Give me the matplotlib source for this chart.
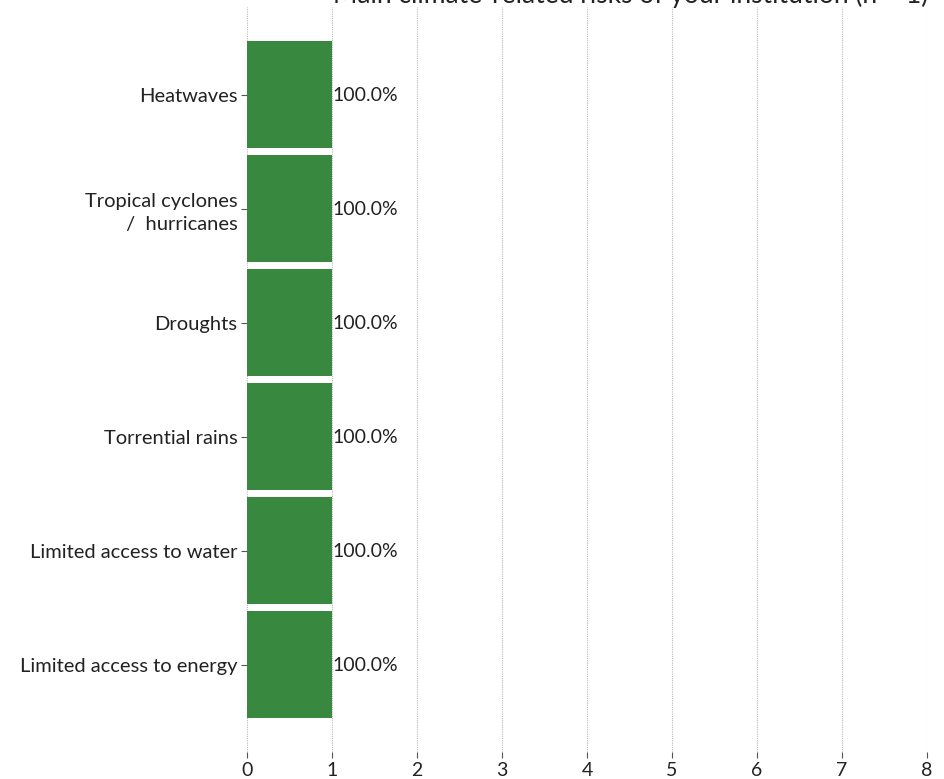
import matplotlib
matplotlib.use("Agg")
import matplotlib.pyplot as plt

risks = [
    "Heatwaves",
    "Tropical cyclones\n /  hurricanes",
    "Droughts",
    "Torrential rains",
    "Limited access to water",
    "Limited access to energy",
]
counts = [1, 1, 1, 1, 1, 1]
shares = [100.0, 100.0, 100.0, 100.0, 100.0, 100.0]
x_ticks = [0, 1, 2, 3, 4, 5, 6, 7, 8]
title = "Main climate-related risks of your institution (n = 1)"

plt.rcParams["font.family"] = ["Lato", "DejaVu Sans"]

fig = plt.figure(figsize=(9.45, 7.79), dpi=100)
ax = fig.add_axes([0.2614, 0.0347, 0.7196, 0.956])

ypos = list(range(len(risks)))[::-1]
ax.barh(ypos, counts, height=0.94, color="#38893f", zorder=3)
for y, c, s in zip(ypos, counts, shares):
    ax.text(c + 0.005, y - 0.01, f"{s:.1f}%", va="center", ha="left",
            fontsize=14, color="#222222", zorder=4)

ax.set_yticks(ypos)
ax.set_yticklabels(risks, fontsize=14.5, color="#222222", ha="right",
                   linespacing=1.4)
ax.set_xticks(x_ticks)
ax.set_xticklabels([str(t) for t in x_ticks], fontsize=14, color="#222222")
ax.set_xlim(0, 8)
ax.grid(axis="x", linestyle=(0, (1, 1)), color="#bbbbbb", linewidth=0.8, zorder=0)
ax.tick_params(axis="both", length=4, width=0.8, color="#555555", pad=3)
for sp in ax.spines.values():
    sp.set_visible(False)

fig.text(0.667, 1 - 3 / 779, title, ha="center", va="baseline",
         fontsize=19, color="#222222")

fig.savefig("out.png", dpi=100)
